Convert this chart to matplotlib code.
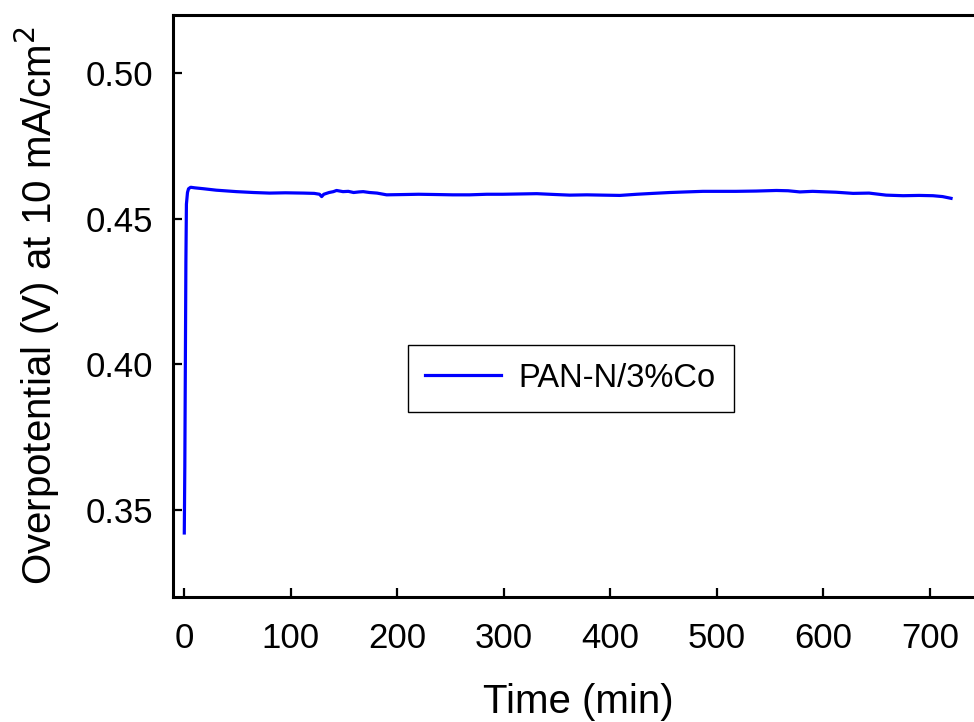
import matplotlib
matplotlib.use("Agg")
import matplotlib.pyplot as plt

# Data
time_min = [0, 0.5, 1, 1.5, 2, 3, 4, 6, 10, 18, 30, 49, 65, 80, 95, 112, 122, 127, 129, 131,
            136, 140, 143, 149, 154, 159, 164, 168, 174, 181, 190, 206, 220, 237, 252, 268,
            284, 299, 315, 331, 349, 362, 378, 393, 409, 425, 440, 456, 471, 487, 503, 518,
            537, 556, 567, 578, 590, 597, 612, 628, 643, 659, 675, 690, 703, 712, 720]
overpotential = [0.342, 0.365, 0.400, 0.435, 0.455, 0.4590, 0.4603, 0.4608, 0.4606, 0.4603,
                 0.4598, 0.4593, 0.4590, 0.4588, 0.4589, 0.4588, 0.4587, 0.4584, 0.4576, 0.4584,
                 0.4590, 0.4593, 0.4597, 0.4593, 0.4594, 0.4590, 0.4592, 0.4593, 0.4590, 0.4588,
                 0.4582, 0.4583, 0.4584, 0.4583, 0.4582, 0.4582, 0.4584, 0.4584, 0.4585, 0.4586,
                 0.4583, 0.4581, 0.4582, 0.4581, 0.4580, 0.4584, 0.4587, 0.4590, 0.4592, 0.4594,
                 0.4594, 0.4594, 0.4595, 0.4597, 0.4596, 0.4592, 0.4594, 0.4593, 0.4591, 0.4587,
                 0.4588, 0.4581, 0.4579, 0.4580, 0.4579, 0.4576, 0.4570]
series_label = "PAN-N/3%Co"
x_ticks = [0, 100, 200, 300, 400, 500, 600, 700]
y_ticks = [0.35, 0.40, 0.45, 0.50]

plt.rcParams['font.family'] = ['Liberation Sans', 'DejaVu Sans']

fig = plt.figure(figsize=(9.74, 7.22), dpi=100)
ax = fig.add_axes([173/974, 1 - 597/722, 810/974, 582/722])

ax.plot(time_min, overpotential, color='#0000FF', lw=2.3, label=series_label)

ax.set_xlim(-10.6, 750)
ax.set_ylim(0.32, 0.52)
ax.set_xticks(x_ticks)
ax.set_yticks(y_ticks)
ax.set_yticklabels([f"{v:.2f}" for v in y_ticks])

for s in ['left', 'bottom', 'top']:
    ax.spines[s].set_linewidth(2.2)
ax.spines['right'].set_visible(False)

ax.tick_params(axis='both', direction='in', length=6.5, width=1.6, labelsize=25)
ax.tick_params(axis='x', pad=18)
ax.tick_params(axis='y', pad=14)

ax.set_xlabel("Time (min)", fontsize=29, labelpad=20)
ax.set_ylabel("Overpotential (V) at 10 mA/cm$^2$", fontsize=29, labelpad=17)

leg = ax.legend(loc='center', bbox_to_anchor=(0.491, 0.376), fontsize=23.5, frameon=True,
                fancybox=False, edgecolor='black', framealpha=1, handlelength=2.3,
                handletextpad=0.56, borderpad=0.55)
leg.get_frame().set_linewidth(1.0)

fig.savefig("out.png", dpi=100)
